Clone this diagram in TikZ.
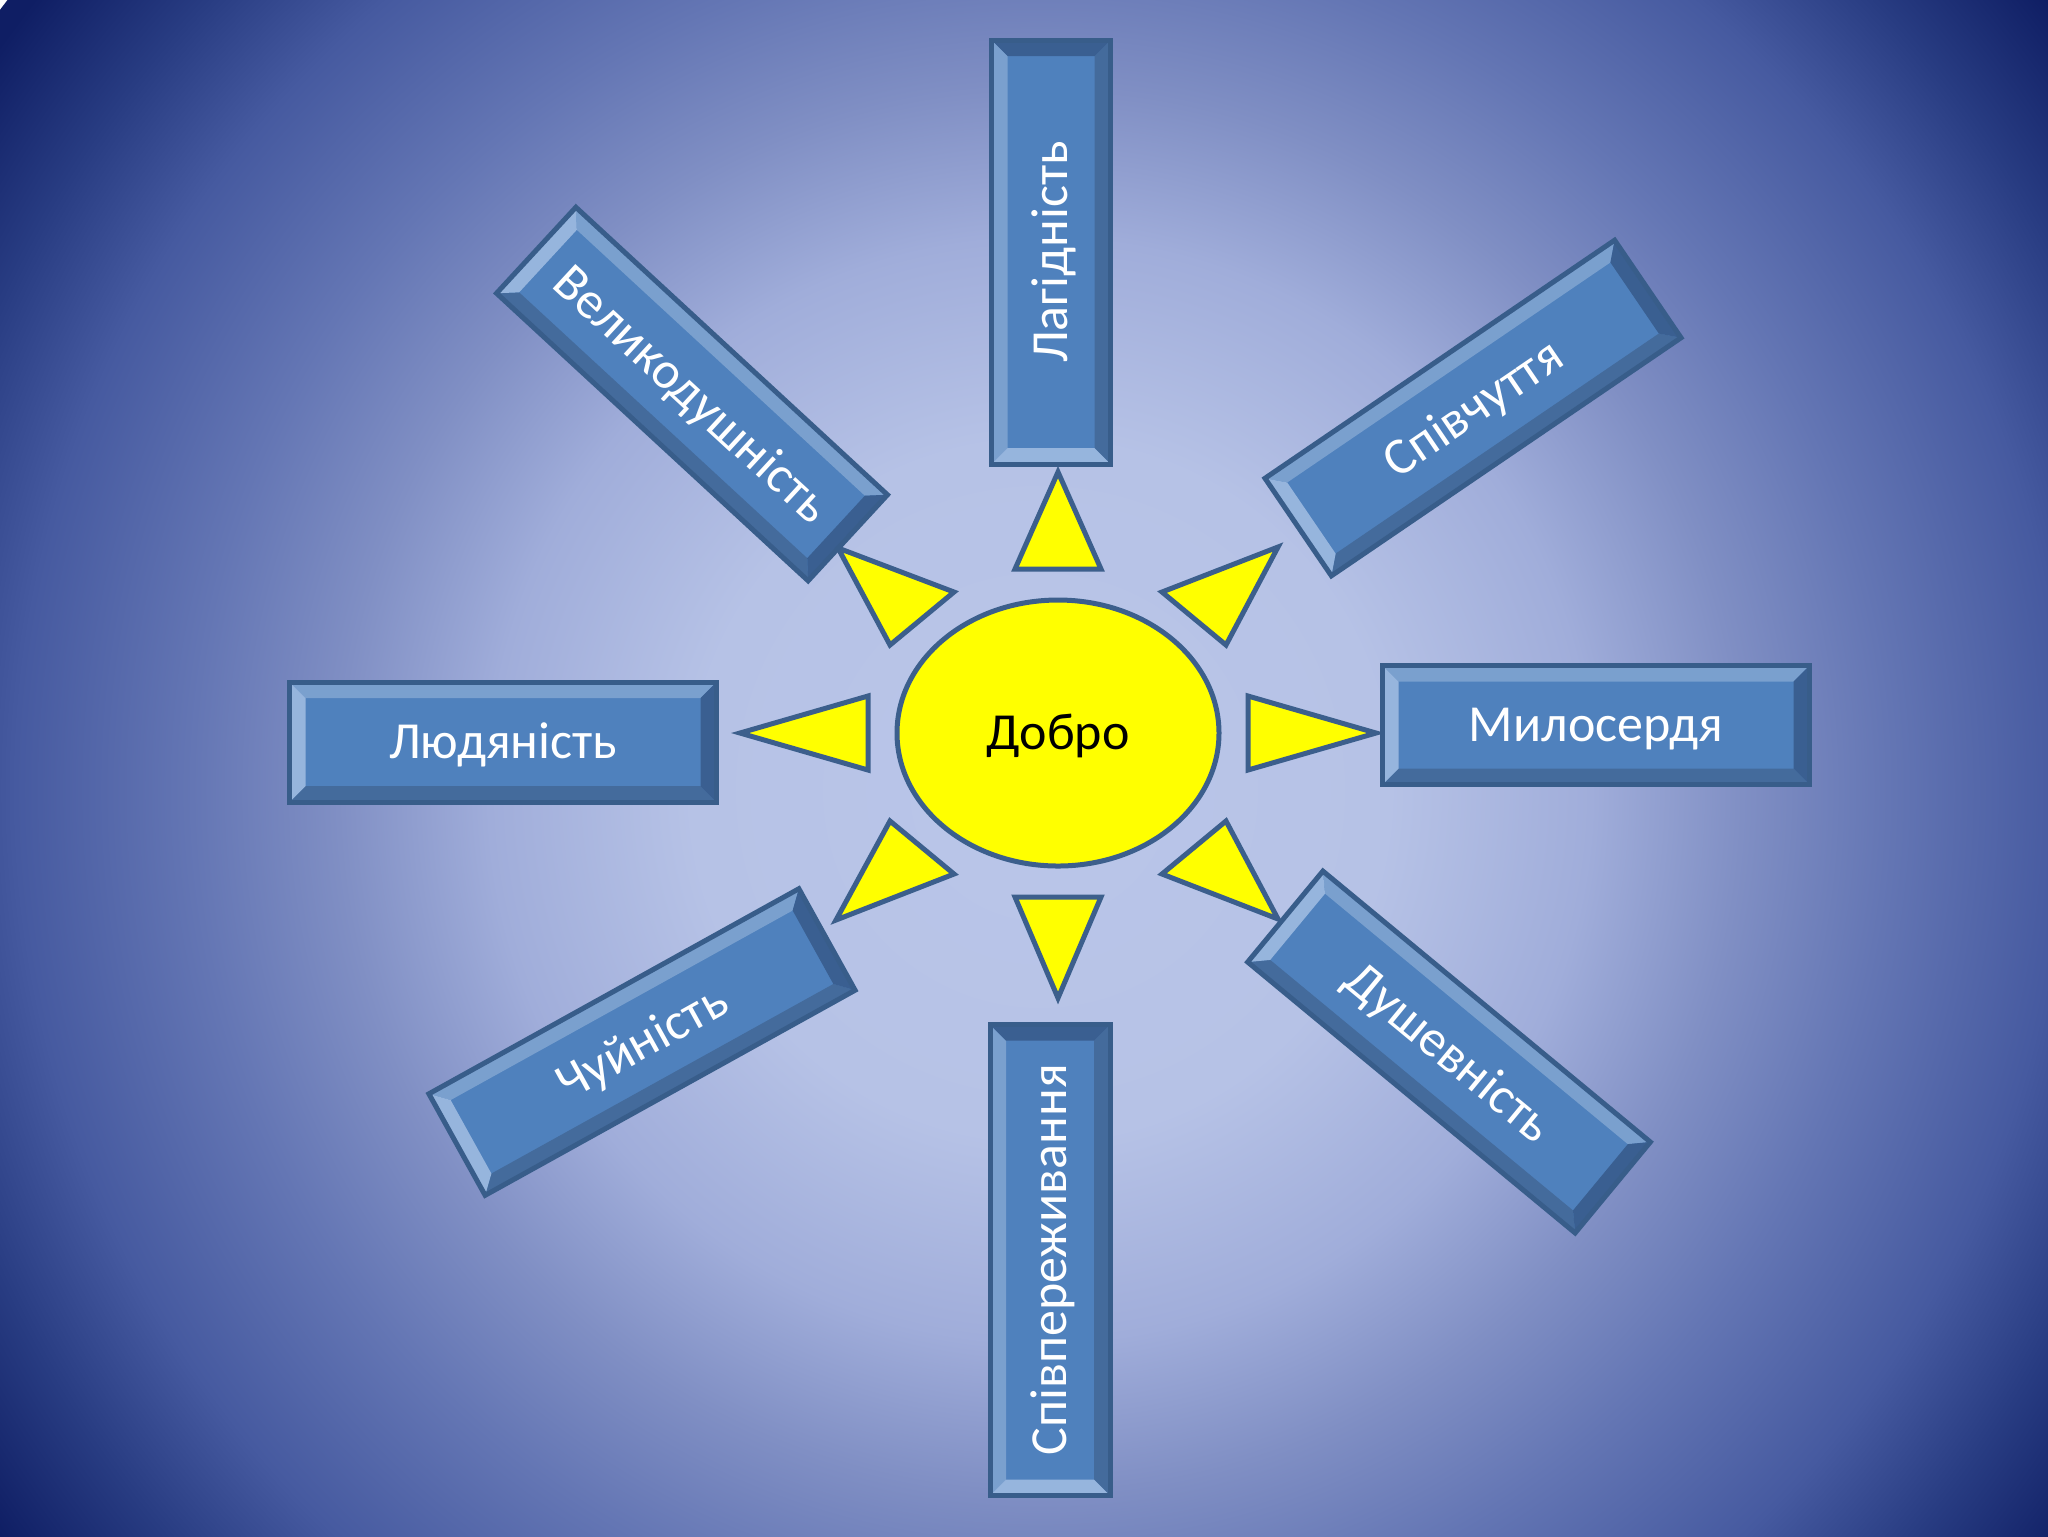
\documentclass[tikz,border=0pt]{standalone}
\usepackage{fontspec}
\setmainfont{Carlito}
\usepackage{tikz}
\usetikzlibrary{calc, shapes.geometric}
\definecolor{bgMid}{RGB}{186,198,233}
\definecolor{bgCore}{RGB}{182,194,230}
\definecolor{bgLight}{RGB}{160,173,218}
\definecolor{bgSoft}{RGB}{128,143,196}
\definecolor{bgDim}{RGB}{100,118,180}
\definecolor{bgDark}{RGB}{70,90,160}
\definecolor{bgNavy}{RGB}{40,60,130}
\definecolor{bgDeep}{RGB}{15,30,100}
\definecolor{bevelFace}{RGB}{79,129,189}
\definecolor{bevelTop}{RGB}{122,160,206}
\definecolor{bevelLeft}{RGB}{150,181,221}
\definecolor{bevelRight}{RGB}{58,95,145}
\definecolor{bevelBot}{RGB}{68,107,156}
\definecolor{bevelEdge}{RGB}{56,93,138}
\definecolor{sunFill}{RGB}{255,255,0}
\definecolor{rayEdge}{RGB}{60,95,140}
\pgfdeclareradialshading{bgGlow}{\pgfpoint{0bp}{0bp}}{color(0bp)=(bgMid); color(6.7bp)=(bgCore); color(10.6bp)=(bgLight); color(13.5bp)=(bgSoft); color(16.3bp)=(bgDim); color(19.7bp)=(bgDark); color(22.1bp)=(bgNavy); color(24.6bp)=(bgDeep); color(50bp)=(bgDeep)}

\begin{document}
\begin{tikzpicture}[
    x=0.1mm, y=-0.1mm,
    boxtext/.style={text=white, font=\fontsize{14.8}{17}\selectfont,
                    text height=9.3pt, text depth=0pt, inner sep=0pt},
    sun/.style={ellipse, fill=sunFill, draw=rayEdge, line width=0.5mm,
                minimum width=32.2mm, minimum height=26.6mm, inner sep=0pt,
                font=\fontsize{14.8}{17}\selectfont, text height=9.3pt, text depth=0pt},
    ray/.style={fill=sunFill, draw=rayEdge, line width=0.5mm}
]
\begin{scope}
   \clip (0,0) rectangle (2048,1536);
   \shade[shading=bgGlow] (1040,790) circle (1300);
\end{scope}
\useasboundingbox (0,0) rectangle (2048,1536);

\node[sun] (dobro) at (1058,733) {Добро};

\foreach \ax/\ay/\bx/\by/\qx/\qy in {
  0/-261/-43/-164/43/-164,     0/265/-43/164/43/164,
  -318/0/-190/-37/-190/37,     318/0/190/-37/190/37,
  -220/-185/-104/-141/-168/-88, 220/-186/104/-141/168/-88,
  -222/187/-104/141/-168/88,   220/186/104/141/168/88}
{
   \draw[ray, shift={(dobro.center)}] (\ax,\ay) -- (\bx,\by) -- (\qx,\qy) -- cycle;
}

\foreach \nm/\cx/\cy/\ang/\lng/\thk/\txt in {
  lagid/1051/252/90/424/119/Лагідність,
  spivch/1473/408/34.25/423/118/Співчуття,
  mylos/1596/725/0/427/119/Милосердя,
  dushev/1449/1052/-39.6/425/118/Душевність,
  spivper/1050/1260/90/471/120/Співпереживання,
  chuin/642/1042/29/423/116/Чуйність,
  lyud/503/742/0/427/120/Людяність,
  velyk/692/394/-42.7/424/117/Великодушність}
{
   \pgfmathsetmacro{\halfL}{\lng/2}
   \pgfmathsetmacro{\halfW}{\thk/2}
   \pgfmathsetmacro{\innL}{\lng/2-16}
   \pgfmathsetmacro{\innW}{\thk/2-16}
   \begin{scope}[shift={(\cx,\cy)}, rotate=\ang]
      \fill[bevelFace] (-\halfL,-\halfW) rectangle (\halfL,\halfW);
      \fill[bevelTop] (-\halfL,-\halfW) -- (\halfL,-\halfW) -- (\innL,-\innW) -- (-\innL,-\innW) -- cycle;
      \fill[bevelBot] (-\halfL,\halfW) -- (\halfL,\halfW) -- (\innL,\innW) -- (-\innL,\innW) -- cycle;
      \fill[bevelLeft] (-\halfL,-\halfW) -- (-\innL,-\innW) -- (-\innL,\innW) -- (-\halfL,\halfW) -- cycle;
      \fill[bevelRight] (\halfL,-\halfW) -- (\innL,-\innW) -- (\innL,\innW) -- (\halfL,\halfW) -- cycle;
      \draw[bevelEdge, line width=0.5mm] (-\halfL,-\halfW) rectangle (\halfL,\halfW);
   \end{scope}
   \node[boxtext, rotate=\ang] (\nm) at (\cx,\cy) {\txt};
}
\end{tikzpicture}
\end{document}
